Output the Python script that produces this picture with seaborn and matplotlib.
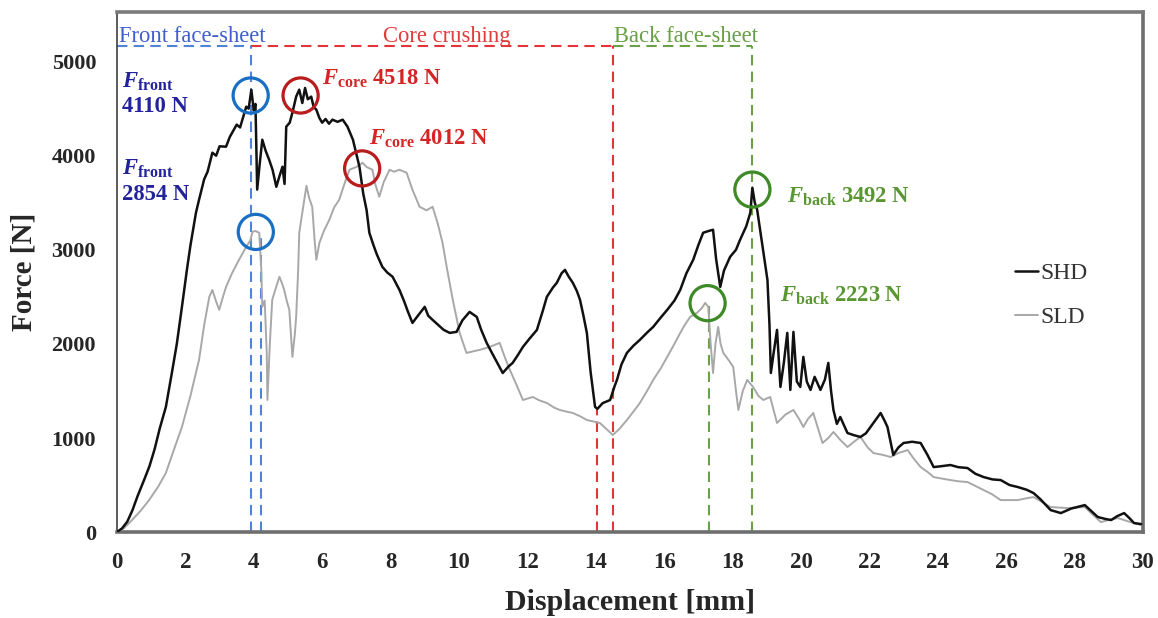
import numpy as np
import pandas as pd
import matplotlib
matplotlib.use("Agg")
import matplotlib.pyplot as plt
import seaborn as sns

# ---------------- data ----------------
shd_x = [0.0, 0.15, 0.3, 0.45, 0.6, 0.8, 0.95, 1.1, 1.25, 1.43, 1.6, 1.75, 1.9, 2.05, 2.15, 2.31, 2.4,
         2.55, 2.65, 2.79, 2.9, 3.0, 3.19, 3.3, 3.37, 3.5, 3.6, 3.78, 3.85, 3.93, 4.0, 4.05, 4.1, 4.17,
         4.25, 4.35, 4.45, 4.55, 4.66, 4.75, 4.84, 4.9, 4.95, 5.05, 5.13, 5.24, 5.33, 5.42, 5.5, 5.58,
         5.68, 5.75, 5.83, 5.92, 6.0, 6.1, 6.2, 6.3, 6.45, 6.6, 6.74, 6.9, 7.0, 7.09, 7.2, 7.3, 7.38,
         7.5, 7.6, 7.76, 7.9, 8.06, 8.15, 8.26, 8.4, 8.5, 8.64, 8.8, 9.0, 9.1, 9.23, 9.4, 9.55, 9.73,
         9.93, 10.1, 10.31, 10.52, 10.65, 10.81, 11.0, 11.15, 11.28, 11.45, 11.57, 11.72, 11.87, 12.05,
         12.28, 12.45, 12.57, 12.75, 12.86, 13.0, 13.1, 13.2, 13.33, 13.45, 13.54, 13.64, 13.74, 13.85,
         13.98, 14.05, 14.2, 14.42, 14.55, 14.62, 14.75, 14.91, 15.1, 15.29, 15.5, 15.68, 15.9, 16.09,
         16.3, 16.47, 16.65, 16.85, 17.0, 17.14, 17.3, 17.43, 17.52, 17.64, 17.75, 17.93, 18.1, 18.22,
         18.4, 18.52, 18.58, 18.65, 18.72, 18.85, 19.02, 19.08, 19.12, 19.2, 19.3, 19.4, 19.5, 19.6,
         19.69, 19.78, 19.88, 19.98, 20.07, 20.17, 20.28, 20.4, 20.57, 20.7, 20.8, 20.88, 20.95, 21.05,
         21.15, 21.36, 21.55, 21.74, 21.9, 22.1, 22.33, 22.45, 22.53, 22.7, 22.85, 23.0, 23.25, 23.5,
         23.7, 23.88, 24.1, 24.37, 24.6, 24.87, 25.1, 25.34, 25.6, 25.84, 26.1, 26.34, 26.6, 26.8, 27.0,
         27.3, 27.6, 27.9, 28.3, 28.5, 28.68, 28.9, 29.07, 29.25, 29.45, 29.6, 29.74, 29.95]
shd_y = [0, 40, 110, 230, 380, 560, 700, 880, 1100, 1330, 1680, 2000, 2394, 2800, 3050, 3394, 3532,
         3750, 3830, 4032, 4000, 4100, 4096, 4200, 4245, 4330, 4300, 4521, 4500, 4700, 4480, 4550, 3640,
         3900, 4170, 4050, 3957, 3850, 3670, 3780, 3883, 3700, 4309, 4350, 4457, 4628, 4702, 4560, 4720,
         4600, 4628, 4520, 4489, 4400, 4351, 4390, 4340, 4383, 4360, 4383, 4309, 4170, 4020, 3883, 3600,
         3420, 3181, 3050, 2950, 2819, 2760, 2713, 2650, 2574, 2450, 2350, 2223, 2300, 2394, 2300, 2255,
         2200, 2150, 2117, 2128, 2250, 2340, 2287, 2150, 2011, 1880, 1780, 1691, 1760, 1798, 1880, 1968,
         2050, 2149, 2350, 2500, 2600, 2649, 2750, 2787, 2720, 2649, 2560, 2468, 2300, 2117, 1700, 1330,
         1310, 1370, 1404, 1550, 1617, 1780, 1904, 1980, 2043, 2120, 2181, 2280, 2362, 2460, 2574, 2750,
         2894, 3050, 3181, 3200, 3213, 2900, 2606, 2780, 2926, 3000, 3106, 3250, 3394, 3660, 3500, 3425,
         3100, 2681, 2200, 1691, 1900, 2149, 1543, 1800, 2117, 1511, 2128, 1600, 1543, 1862, 1600, 1511,
         1650, 1511, 1620, 1798, 1500, 1298, 1150, 1223, 1053, 1030, 1011, 1050, 1150, 1266, 1180, 1117,
         820, 900, 947, 960, 947, 820, 691, 700, 713, 690, 681, 620, 585, 560, 553, 500, 479, 450, 415,
         350, 234, 202, 250, 287, 220, 160, 140, 128, 170, 202, 150, 96, 85]

sld_x = [0.0, 0.2, 0.44, 0.7, 0.94, 1.2, 1.43, 1.65, 1.9, 2.15, 2.4, 2.55, 2.7, 2.79, 2.9, 2.99, 3.1,
         3.19, 3.37, 3.57, 3.78, 3.9, 3.96, 4.05, 4.16, 4.22, 4.25, 4.32, 4.38, 4.4, 4.47, 4.54, 4.65,
         4.75, 4.82, 4.89, 4.97, 5.04, 5.13, 5.2, 5.24, 5.3, 5.33, 5.48, 5.54, 5.62, 5.71, 5.78, 5.83,
         5.92, 6.05, 6.21, 6.35, 6.5, 6.65, 6.8, 7.0, 7.18, 7.3, 7.47, 7.55, 7.67, 7.8, 7.97, 8.1, 8.26,
         8.47, 8.64, 8.85, 9.05, 9.23, 9.38, 9.52, 9.65, 9.82, 10.02, 10.22, 10.4, 10.6, 10.9, 11.19,
         11.35, 11.49, 11.7, 11.87, 12.16, 12.35, 12.57, 12.8, 12.95, 13.15, 13.33, 13.55, 13.74, 14.12,
         14.3, 14.5, 14.7, 14.91, 15.1, 15.29, 15.5, 15.68, 15.9, 16.09, 16.3, 16.47, 16.6, 16.76, 16.96,
         17.1, 17.2, 17.29, 17.36, 17.43, 17.5, 17.58, 17.65, 17.73, 17.9, 18.02, 18.1, 18.17, 18.3,
         18.43, 18.6, 18.75, 18.9, 19.1, 19.3, 19.55, 19.78, 19.95, 20.07, 20.2, 20.36, 20.5, 20.63,
         20.8, 20.95, 21.15, 21.36, 21.55, 21.74, 21.95, 22.12, 22.4, 22.62, 22.85, 23.12, 23.3, 23.5,
         23.7, 23.88, 24.1, 24.37, 24.6, 24.87, 25.1, 25.34, 25.6, 25.84, 26.1, 26.34, 26.6, 26.8, 27.05,
         27.3, 27.55, 27.8, 28.05, 28.3, 28.55, 28.77, 29.0, 29.27, 29.6, 29.95]
sld_y = [0, 40, 128, 230, 340, 480, 628, 860, 1117, 1450, 1830, 2200, 2500, 2574, 2450, 2362, 2500,
         2606, 2755, 2894, 3032, 3100, 3191, 3200, 3181, 2800, 2394, 2460, 1900, 1404, 2000, 2468, 2600,
         2713, 2650, 2574, 2450, 2362, 1862, 2100, 2287, 2800, 3181, 3532, 3680, 3550, 3457, 3100, 2894,
         3074, 3200, 3319, 3450, 3532, 3700, 3851, 3880, 3925, 3880, 3851, 3700, 3564, 3720, 3851, 3830,
         3851, 3819, 3638, 3457, 3420, 3457, 3280, 3074, 2800, 2468, 2117, 1904, 1920, 1936, 1968, 2011,
         1850, 1723, 1550, 1404, 1436, 1400, 1372, 1320, 1298, 1280, 1266, 1230, 1191, 1160, 1100, 1032,
         1100, 1191, 1280, 1372, 1500, 1617, 1740, 1862, 2000, 2117, 2200, 2287, 2330, 2380, 2436, 2394,
         2000, 1691, 2000, 2181, 2000, 1904, 1820, 1755, 1500, 1298, 1500, 1617, 1543, 1450, 1404, 1436,
         1160, 1250, 1298, 1200, 1117, 1200, 1266, 1100, 947, 1000, 1064, 980, 904, 960, 1011, 900, 840,
         820, 798, 840, 872, 780, 691, 640, 585, 570, 553, 540, 532, 490, 447, 400, 340, 340, 340, 360,
         372, 320, 266, 260, 255, 260, 266, 180, 106, 130, 149, 110, 74]

series_names = ["SHD", "SLD"]
x_ticks = list(range(0, 31, 2))
y_ticks = [0, 1000, 2000, 3000, 4000, 5000]

# annotated peak points (x, y)
front_pts = [(3.91, 4640), (4.06, 3190)]
core_pts = [(5.37, 4640), (7.17, 3865)]
back_pts = [(18.58, 3640), (17.27, 2433)]

# ---------------- style ----------------
sns.set_style("white")
plt.rcParams["font.family"] = ["Liberation Serif", "DejaVu Serif"]
plt.rcParams["mathtext.fontset"] = "custom"
plt.rcParams["mathtext.rm"] = "Liberation Serif"
plt.rcParams["mathtext.it"] = "Liberation Serif:italic"
plt.rcParams["mathtext.bf"] = "Liberation Serif:bold"
plt.rcParams["mathtext.bfit"] = "Liberation Serif:italic:bold"

fig = plt.figure(figsize=(11.58, 6.18), dpi=100)
ax = fig.add_axes([0.101, 0.139, 0.886, 0.842])

df = pd.concat([
    pd.DataFrame({"x": shd_x, "y": shd_y, "s": series_names[0]}),
    pd.DataFrame({"x": sld_x, "y": sld_y, "s": series_names[1]}),
])
sns.lineplot(data=df[df.s == "SLD"], x="x", y="y", color="#A8A8A8", lw=1.4,
             sort=False, estimator=None, ax=ax, label="SLD", zorder=3)
sns.lineplot(data=df[df.s == "SHD"], x="x", y="y", color="#111111", lw=1.8,
             sort=False, estimator=None, ax=ax, label="SHD", zorder=4)

ax.set_xlim(0, 30)
ax.set_ylim(0, 5530)
ax.set_xticks(x_ticks)
ax.set_yticks(y_ticks)
ax.tick_params(axis="x", direction="out", length=5, width=1.0, color="#707070",
               labelsize=16.5, pad=9)
ax.tick_params(axis="y", direction="out", length=6, width=1.0, color="#707070",
               labelsize=16, pad=9)
for lab in ax.get_xticklabels() + ax.get_yticklabels():
    lab.set_fontweight("bold")
ax.set_xlabel("Displacement [mm]", fontsize=21.5, fontweight="bold", labelpad=12)
ax.set_ylabel("Force [N]", fontsize=21, fontweight="bold", labelpad=10)

for side, c, w in [("left", "#404040", 1.2), ("bottom", "#6E6E6E", 2.6),
                   ("top", "#7A7A7A", 2.6), ("right", "#6E6E6E", 2.6)]:
    ax.spines[side].set_visible(True)
    ax.spines[side].set_color(c)
    ax.spines[side].set_linewidth(w)

# ---------------- region guides ----------------
blue_d, red_d, green_d = "#4F84D8", "#E3343A", "#6BA046"
dash = (0, (5, 3))
top_y = 5170
ax.plot([0, 3.91], [top_y, top_y], color=blue_d, ls=dash, lw=1.5, zorder=2)
ax.plot([3.91, 14.51], [top_y, top_y], color=red_d, ls=dash, lw=1.5, zorder=2)
ax.plot([14.51, 18.57], [top_y, top_y], color=green_d, ls=dash, lw=1.5, zorder=2)
ax.plot([3.91, 3.91], [0, top_y], color=blue_d, ls=dash, lw=1.5, zorder=2)
ax.plot([4.21, 4.21], [0, 3190], color=blue_d, ls=dash, lw=1.5, zorder=2)
ax.plot([14.03, 14.03], [0, 1320], color=red_d, ls=dash, lw=1.5, zorder=2)
ax.plot([14.51, 14.51], [0, top_y], color=red_d, ls=dash, lw=1.5, zorder=2)
ax.plot([17.30, 17.30], [0, 2400], color=green_d, ls=dash, lw=1.5, zorder=2)
ax.plot([18.57, 18.57], [0, top_y], color=green_d, ls=dash, lw=1.5, zorder=2)

rfs = 16.3
ax.text(0.06, 5213, "Front face-sheet", color="#3F5FCF", fontsize=rfs, va="baseline", ha="left")
ax.text(9.65, 5213, "Core crushing", color="#E03C3C", fontsize=rfs, va="baseline", ha="center")
ax.text(14.53, 5213, "Back face-sheet", color="#6A9F45", fontsize=rfs, va="baseline", ha="left")

# ---------------- circles ----------------
circ_s = 640
for pts, c in [(front_pts, "#1A6FC4"), (core_pts, "#B81C1C"), (back_pts, "#3E8A26")]:
    ax.scatter([p[0] for p in pts], [p[1] for p in pts], s=circ_s, facecolors="none",
               edgecolors=c, linewidths=2.3, zorder=6)

# ---------------- annotations ----------------
fb, cr, gr = "#22229C", "#D42424", "#5A9632"
afs = 16.3
ax.text(0.15, 4723, r"$\mathbfit{F}_{\mathbf{front}}$", color=fb, fontsize=afs, va="baseline")
ax.text(0.15, 4468, "4110 N", color=fb, fontsize=afs, fontweight="bold", va="baseline")
ax.text(0.15, 3798, r"$\mathbfit{F}_{\mathbf{front}}$", color=fb, fontsize=afs, va="baseline")
ax.text(0.15, 3532, "2854 N", color=fb, fontsize=afs, fontweight="bold", va="baseline")
ax.text(6.0, 4755, r"$\mathbfit{F}_{\mathbf{core}}$ 4518 N", color=cr, fontsize=afs,
        fontweight="bold", va="baseline")
ax.text(7.38, 4117, r"$\mathbfit{F}_{\mathbf{core}}$ 4012 N", color=cr, fontsize=afs,
        fontweight="bold", va="baseline")
ax.text(19.6, 3500, r"$\mathbfit{F}_{\mathbf{back}}$ 3492 N", color=gr, fontsize=afs,
        fontweight="bold", va="baseline")
ax.text(19.4, 2447, r"$\mathbfit{F}_{\mathbf{back}}$ 2223 N", color=gr, fontsize=afs,
        fontweight="bold", va="baseline")

# ---------------- legend ----------------
h, l = ax.get_legend_handles_labels()
order = [l.index("SHD"), l.index("SLD")]
leg = ax.legend([h[i] for i in order], [l[i] for i in order], loc="center left",
                bbox_to_anchor=(0.855, 0.455), frameon=False, fontsize=17,
                handlelength=0.95, handletextpad=0.1, labelspacing=0.95)
for t in leg.get_texts():
    t.set_color("#333333")

fig.savefig("out.png", dpi=100)
